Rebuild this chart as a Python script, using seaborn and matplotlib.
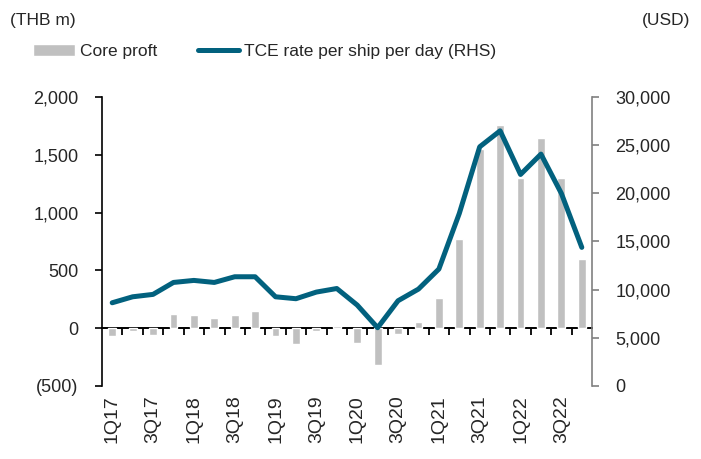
import numpy as np
import matplotlib
matplotlib.use("Agg")
import matplotlib.pyplot as plt
from matplotlib.ticker import FuncFormatter
import seaborn as sns

quarters = ["1Q17", "2Q17", "3Q17", "4Q17", "1Q18", "2Q18", "3Q18", "4Q18",
            "1Q19", "2Q19", "3Q19", "4Q19", "1Q20", "2Q20", "3Q20", "4Q20",
            "1Q21", "2Q21", "3Q21", "4Q21", "1Q22", "2Q22", "3Q22", "4Q22"]
core_profit = [-70, -20, -55, 127, 110, 92, 110, 145,
               -70, -140, -23, 20, -125, -315, -48, 55,
               257, 772, 1546, 1760, 1300, 1644, 1300, 601]
tce_rate = [8640, 9260, 9510, 10750, 10960, 10750, 11340, 11340,
            9260, 9060, 9750, 10120, 8400, 6050, 8850, 10060,
            12140, 17910, 24830, 26490, 21960, 24070, 19990, 14390]
left_ticks = [-500, 0, 500, 1000, 1500, 2000]
right_ticks = [0, 5000, 10000, 15000, 20000, 25000, 30000]

sns.set_style("white")
plt.rcParams["font.family"] = ["Liberation Sans", "DejaVu Sans"]

bar_color = "#c0c0c0"
line_color = "#02617e"

fig = plt.figure(figsize=(7.01, 4.59), dpi=100)
ax = fig.add_axes([102 / 701, 1 - 386 / 459, 490 / 701, 289 / 459])

sns.barplot(x=quarters, y=core_profit, color=bar_color, saturation=1,
            width=0.38, ax=ax, label="Core proft")
ax.set_xlim(-0.5, len(quarters) - 0.5)
ax.set_ylim(left_ticks[0], left_ticks[-1])
ax.set_yticks(left_ticks)
ax.yaxis.set_major_formatter(FuncFormatter(
    lambda v, p: f"({abs(v):,.0f})" if v < 0 else f"{v:,.0f}"))
ax.set_xticks(range(0, len(quarters), 2))
ax.set_xticklabels(quarters[::2], rotation=90)
ax.tick_params(axis="x", length=0, pad=7, labelsize=14)
ax.tick_params(axis="y", length=5, width=1.2, direction="out", color="black",
               pad=12, labelsize=13, left=True)
ax.set_xlabel("")
ax.set_ylabel("")
for s in ["top", "right", "bottom"]:
    ax.spines[s].set_visible(False)
ax.spines["left"].set_color("black")
ax.spines["left"].set_linewidth(1.2)

# zero line with category separators
zero_frac = (0 - left_ticks[0]) / (left_ticks[-1] - left_ticks[0])
sec = ax.secondary_xaxis(zero_frac)
sec.set_xticks(np.arange(len(quarters) - 1) + 0.5, labels=[])
sec.tick_params(length=5, width=1.3, direction="out", color="black")
sec.spines["bottom"].set_color("black")
sec.spines["bottom"].set_linewidth(1.4)

ax2 = ax.twinx()
sns.lineplot(x=np.arange(len(quarters)), y=tce_rate, color=line_color,
             linewidth=3.6, ax=ax2, label="TCE rate per ship per day (RHS)")
ax2.set_ylim(right_ticks[0], right_ticks[-1])
ax2.set_yticks(right_ticks)
ax2.yaxis.set_major_formatter(FuncFormatter(lambda v, p: f"{v:,.0f}"))
ax2.tick_params(axis="y", length=5, width=1.2, direction="out", color="#808080",
                pad=12, labelsize=13)
ax2.set_ylabel("")
for s in ["top", "left", "bottom"]:
    ax2.spines[s].set_visible(False)
ax2.spines["right"].set_color("#808080")
ax2.spines["right"].set_linewidth(1.2)

h1, l1 = ax.get_legend_handles_labels()
h2, l2 = ax2.get_legend_handles_labels()
ax2.get_legend().remove()
if ax.get_legend():
    ax.get_legend().remove()
fig.legend(h1 + h2, l1 + l2, loc="center", bbox_to_anchor=(0.378, 0.887),
           ncol=2, frameon=False, fontsize=12.5, handlelength=2.4,
           handletextpad=0.3, columnspacing=2.3)

fig.text(10 / 701, 1 - 21 / 459, "(THB m)", fontsize=12.5, va="center")
fig.text(690 / 701, 1 - 21 / 459, "(USD)", fontsize=12.5, va="center", ha="right")

fig.savefig("out.png", dpi=100)
